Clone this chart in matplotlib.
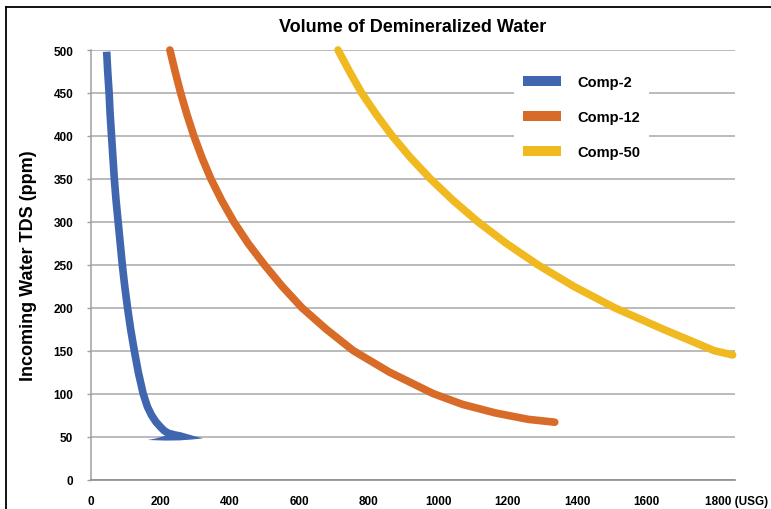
import matplotlib
matplotlib.use("Agg")
import matplotlib.pyplot as plt
from matplotlib.patches import Patch
from matplotlib.lines import Line2D
from matplotlib.transforms import ScaledTranslation

plt.rcParams['font.family'] = ['Liberation Sans', 'DejaVu Sans']

# ---- data (volume in USG, TDS in ppm) ----
comp2_vol = [46, 49, 53, 56, 60, 64, 68, 73, 79, 85, 91, 98, 106, 115, 125.5,
             137, 151, 163, 175, 188, 199, 211, 223, 235]
comp2_tds = [498, 475, 450, 425, 400, 375, 350, 325, 300, 275, 250, 225, 200, 175, 150,
             125, 100, 85, 75, 67, 62, 57, 54, 52.5]
comp2_tail_vol = [165, 190, 214, 235, 260, 290, 323, 290, 255, 215, 165]
comp2_tail_tds = [46, 48, 51, 57, 55, 51.5, 47.8, 46.5, 45.5, 45.3, 46]

comp12_vol = [228, 243, 259, 277, 297, 320, 346, 377, 412, 453, 500, 551, 608, 678,
              756, 860, 986, 1070, 1165, 1260, 1336]
comp12_tds = [500, 475, 450, 425, 400, 375, 350, 325, 300, 275, 250, 225, 200, 175,
              150, 125, 100, 87.5, 77.5, 70, 66.7]

comp50_vol = [712, 745, 780, 822, 868, 920, 978, 1043, 1115, 1196, 1287, 1390, 1508,
              1648, 1795, 1848]
comp50_tds = [500, 475, 450, 425, 400, 375, 350, 325, 300, 275, 250, 225, 200,
              175, 150, 145]

series_names = ["Comp-2", "Comp-12", "Comp-50"]
colors = ["#4166B0", "#D86B27", "#F0B920"]

x_ticks = [0, 200, 400, 600, 800, 1000, 1200, 1400, 1600, 1800]
x_labels = ["0", "200", "400", "600", "800", "1000", "1200", "1400", "1600", "1800 (USG)"]
y_ticks = [0, 50, 100, 150, 200, 250, 300, 350, 400, 450, 500]

title = "Volume of Demineralized Water"
ylabel = "Incoming Water TDS (ppm)"

# ---- figure ----
W, H = 771, 510
fig = plt.figure(figsize=(W / 100, H / 100), dpi=100)
ax = fig.add_axes([90.7 / W, 1 - 480.5 / H, (735 - 90.7) / W, (480.5 - 51) / H])

lw = 5.5
ax.plot(comp2_vol, comp2_tds, color=colors[0], lw=lw, solid_capstyle='butt',
        solid_joinstyle='round', clip_on=False, zorder=3)
ax.fill(comp2_tail_vol, comp2_tail_tds, color=colors[0], lw=0, zorder=3, clip_on=False)
ax.plot(comp12_vol, comp12_tds, color=colors[1], lw=lw, solid_capstyle='round',
        solid_joinstyle='round', clip_on=False, zorder=3)
ax.plot(comp50_vol, comp50_tds, color=colors[2], lw=lw, solid_capstyle='round',
        solid_joinstyle='round', clip_on=False, zorder=3)

ax.set_xlim(0, 1855)
ax.set_ylim(0, 500)

ax.set_yticks(y_ticks)
ax.set_yticklabels([str(v) for v in y_ticks], fontsize=8.5, fontweight='bold')
ax.set_xticks(x_ticks)
ax.set_xticklabels(x_labels, fontsize=8.5, fontweight='bold')

ax.tick_params(axis='y', length=3, width=1, color='#a0a0a0', pad=9.5)
ax.tick_params(axis='x', length=0, pad=11)

lbl = ax.get_xticklabels()[-1]
lbl.set_transform(lbl.get_transform() + ScaledTranslation(21 / 100, 0, fig.dpi_scale_trans))

ax.yaxis.grid(True, color='#a8a8a8', lw=1.1)
ax.set_axisbelow(True)
for s in ['top', 'right']:
    ax.spines[s].set_visible(False)
ax.spines['left'].set_color('#a0a0a0')
ax.spines['left'].set_linewidth(1.1)
ax.spines['bottom'].set_color('#8c8c8c')
ax.spines['bottom'].set_linewidth(1.2)

# legend
handles = [Patch(facecolor=c, edgecolor='none') for c in colors]
leg = fig.legend(handles, series_names, loc='upper left',
                 bbox_to_anchor=(507 / W, 1 - 60 / H), bbox_transform=fig.transFigure,
                 frameon=True, facecolor='white', edgecolor='none', framealpha=1,
                 fancybox=False, borderpad=0.6, handlelength=2.6, handleheight=0.7,
                 handletextpad=1.1, labelspacing=1.45,
                 prop={'family': 'Liberation Sans', 'weight': 'bold', 'size': 10.5})

fig.text(412.8 / W, 1 - 27 / H, title, ha='center', va='center',
         fontsize=13, fontweight='bold')
fig.text(29 / W, 1 - 265.5 / H, ylabel, ha='center', va='center', rotation=90,
         fontsize=13, fontweight='bold')

# outer frame (top and left edges visible)
fig.add_artist(Line2D([5.5 / W, 1.0], [1 - 7.5 / H, 1 - 7.5 / H],
                      transform=fig.transFigure, color='black', lw=1.3))
fig.add_artist(Line2D([5.5 / W, 5.5 / W], [0.0, 1 - 7.5 / H],
                      transform=fig.transFigure, color='black', lw=1.3))

fig.savefig("out.png", dpi=100)
